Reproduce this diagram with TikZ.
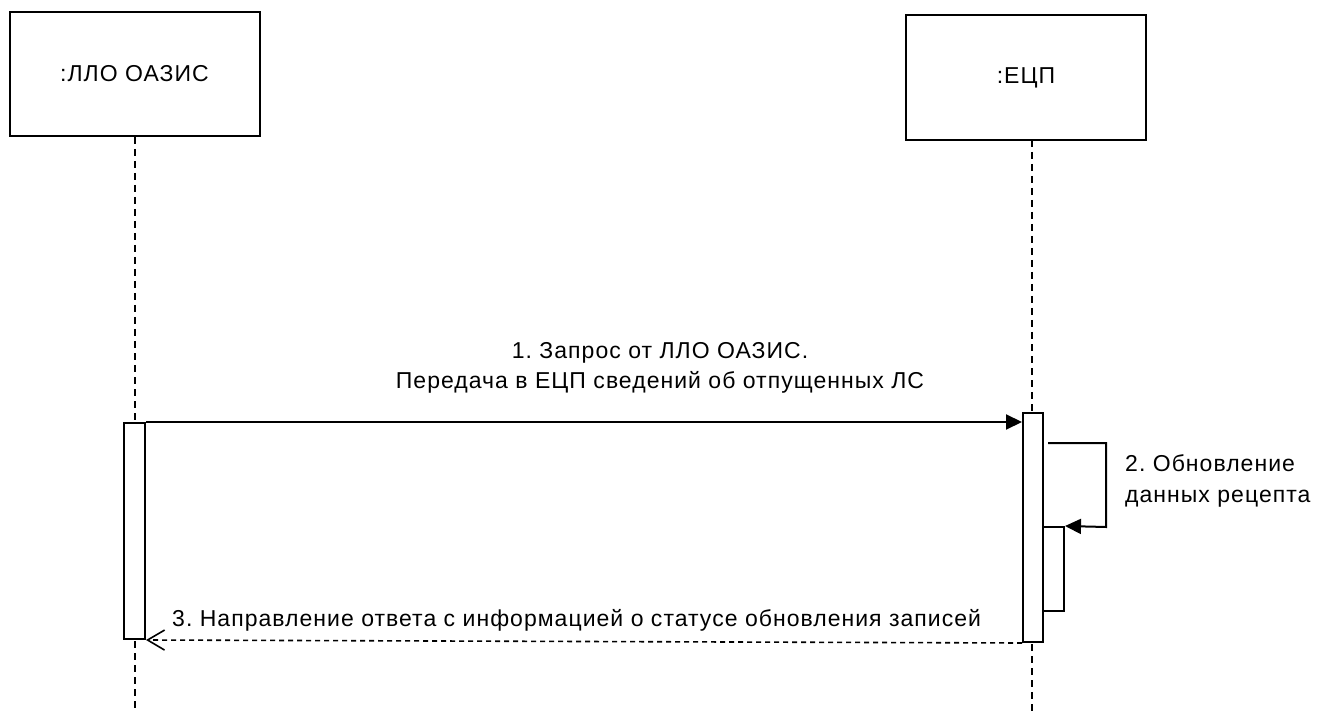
\documentclass[tikz,border=0pt]{standalone}
\usepackage{fontspec}
\setmainfont{Liberation Sans}[LetterSpace=4.5]
\usetikzlibrary{arrows.meta}
\begin{document}
\frenchspacing
\begin{tikzpicture}[x=1pt,y=-1pt,
  every node/.style={font=\fontsize{23}{30.5}\selectfont},
  objbox/.style={draw, line width=2pt, minimum width=#1, inner sep=0pt},
  actbox/.style={draw, fill=white, line width=2pt, inner sep=0pt, minimum width=20pt},
  life/.style={dash pattern=on 7pt off 5pt, line width=2pt},
  msg/.style={line width=2pt, -{Triangle[length=16pt,width=15pt]}},
  ret/.style={line width=1.6pt, dash pattern=on 5pt off 4pt, -{Straight Barb[length=17pt,width=20pt,line width=1.6pt]}},
  lbl/.style={inner sep=0pt, align=left}]
\useasboundingbox (0,0) rectangle (1328,711);
% objects
\node[objbox=250pt, minimum height=124pt] (o1) at (134.5,74) {:ЛЛО ОАЗИС};
\node[objbox=240pt, minimum height=125pt] (o2) at (1026,77.5) {:ЕЦП};
% lifeline ends
\coordinate (e1) at (134.5,711);
\coordinate (e2) at (1032,711);
\coordinate (s2) at (1032,140);
\draw[life] (o1.south) -- (e1);
\draw[life] (s2) -- (e2);
% activations
\node[actbox, minimum height=216pt, minimum width=21pt] (a1) at (134.5,531) {};
\node[actbox, minimum height=229pt] (a2) at (1033,527.5) {};
\node[actbox, minimum height=84pt, minimum width=21pt] (a3) at (1053.5,569) {};
% message 1
\draw[msg] (a1.north east) -- (a1.north east -| a2.west);
\node[lbl, align=center] (l1) at (660,368) {1. Запрос от ЛЛО ОАЗИС.\\Передача в ЕЦП сведений об отпущенных ЛС};
% self message
\coordinate (sm0) at (1048,443);
\coordinate (sm1) at (1106,443);
\coordinate (sm2) at (1106,527);
\draw[msg] (sm0) -- (sm1) -- (sm2) -- (a3.north east);
\node[lbl, anchor=west] (l2) at (1125,481) {2. Обновление\\данных рецепта};
% return message
\draw[ret] (a2.south west) -- (a1.south east);
\node[lbl, anchor=west] (l3) at (172,620) {3. Направление ответа с информацией о статусе обновления записей};
\end{tikzpicture}
\end{document}
